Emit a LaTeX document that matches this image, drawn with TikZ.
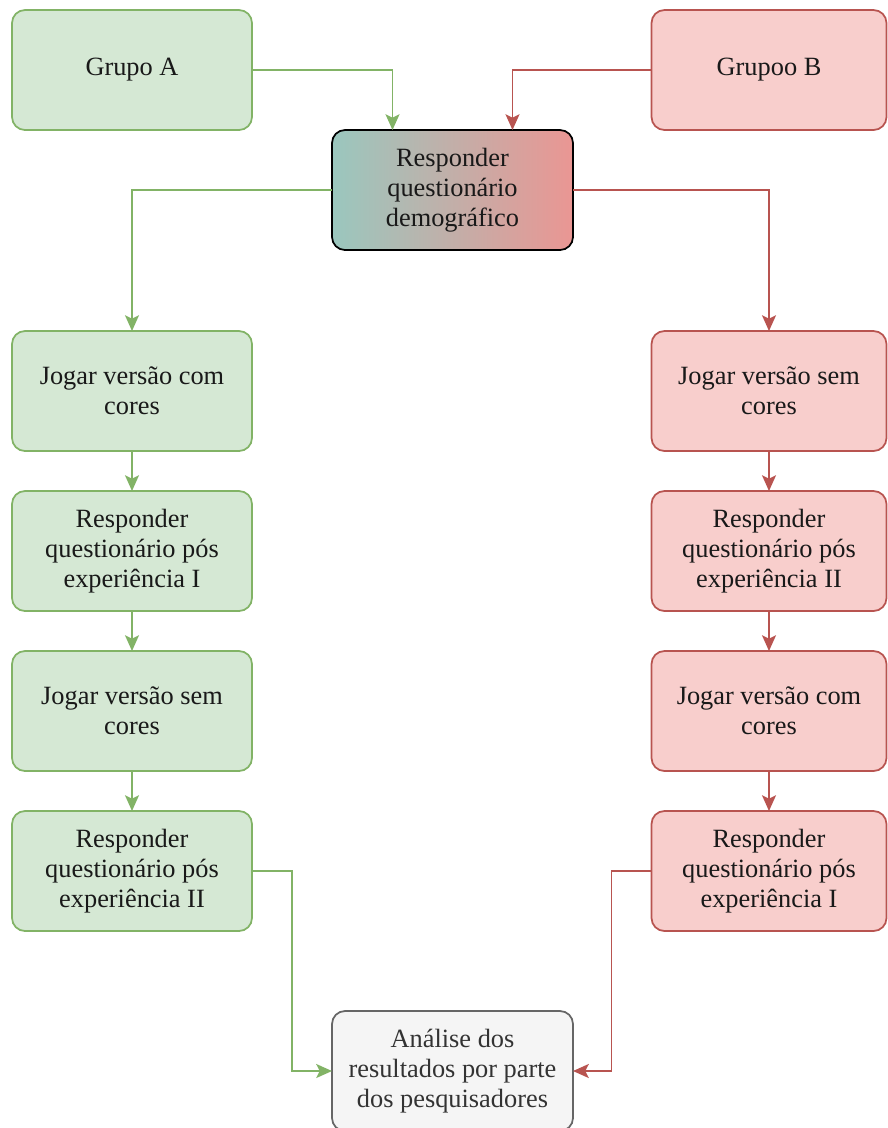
\documentclass[tikz,border=0pt]{standalone}
\usepackage{fontspec}
\setmainfont{Liberation Serif}
\usepackage{tikz}
\usetikzlibrary{positioning, arrows.meta, shapes}
\usepackage{xcolor}

\definecolor{gfill}{HTML}{D5E8D4}
\definecolor{gline}{HTML}{82B366}
\definecolor{rfill}{HTML}{F8CECC}
\definecolor{rline}{HTML}{B85450}
\definecolor{cfill}{HTML}{F5F5F5}
\definecolor{cline}{HTML}{666666}
\definecolor{ctext}{HTML}{333333}
\definecolor{tealgrad}{HTML}{9AC7BE}
\definecolor{redgrad}{HTML}{EA9693}

\tikzset{
	box/.style={rectangle, rounded corners=0.26cm, line width=1pt, minimum width=4.8cm,
		minimum height=2.4cm, align=center, text=black!90, outer sep=0pt,
		font=\fontsize{15pt}{17pt}\selectfont},
	gbox/.style={box, draw=gline, fill=gfill},
	rbox/.style={box, draw=rline, fill=rfill, minimum width=4.7cm},
	garrow/.style={draw=gline, line width=1pt, -{Stealth[length=9pt, width=8pt, inset=2pt]}},
	rarrow/.style={draw=rline, line width=1pt, -{Stealth[length=9pt, width=8pt, inset=2pt]}}
}

\begin{document}
\begin{tikzpicture}[-, node distance=0.8cm]
		\useasboundingbox (0,0) rectangle (17.74,-22.56);
		\node[gbox] (ga) at (2.64,-1.40) {Grupo A};
		\node[rbox] (gb) at (15.38,-1.40) {Grupoo B};
		\node[box, draw=black, shade, shading=axis, left color=tealgrad, right color=redgrad,
			minimum width=4.82cm] (demo) at (9.05,-3.80) {Responder\\questionário\\demográfico};
		
		\node[gbox] (a1) at (2.64,-7.82) {Jogar versão com\\cores};
		\node[gbox, below=of a1] (a2) {Responder\\questionário pós\\experiência I};
		\node[gbox, below=of a2] (a3) {Jogar versão sem\\cores};
		\node[gbox, below=of a3] (a4) {Responder\\questionário pós\\experiência II};
		
		\node[rbox] (b1) at (15.38,-7.82) {Jogar versão sem\\cores};
		\node[rbox, below=of b1] (b2) {Responder\\questionário pós\\experiência II};
		\node[rbox, below=of b2] (b3) {Jogar versão com\\cores};
		\node[rbox, below=of b3] (b4) {Responder\\questionário pós\\experiência I};
		
		\node[box, draw=cline, fill=cfill, text=ctext, minimum width=4.82cm] (fim) at (9.05,-21.42)
			{Análise dos\\resultados por parte\\dos pesquisadores};
		
		\draw[garrow] (ga.east) -| ([xshift=-1.2cm]demo.north);
		\draw[rarrow] (gb.west) -| ([xshift=1.2cm]demo.north);
		\draw[garrow] (demo.west) -| (a1.north);
		\draw[rarrow] (demo.east) -| (b1.north);
		\draw[garrow] (a1) -- (a2);
		\draw[garrow] (a2) -- (a3);
		\draw[garrow] (a3) -- (a4);
		\draw[rarrow] (b1) -- (b2);
		\draw[rarrow] (b2) -- (b3);
		\draw[rarrow] (b3) -- (b4);
		\draw[garrow] (a4.east) -- ++(0.8,0) |- (fim.west);
		\draw[rarrow] (b4.west) -- ++(-0.8,0) |- (fim.east);
	\end{tikzpicture}
\end{document}
